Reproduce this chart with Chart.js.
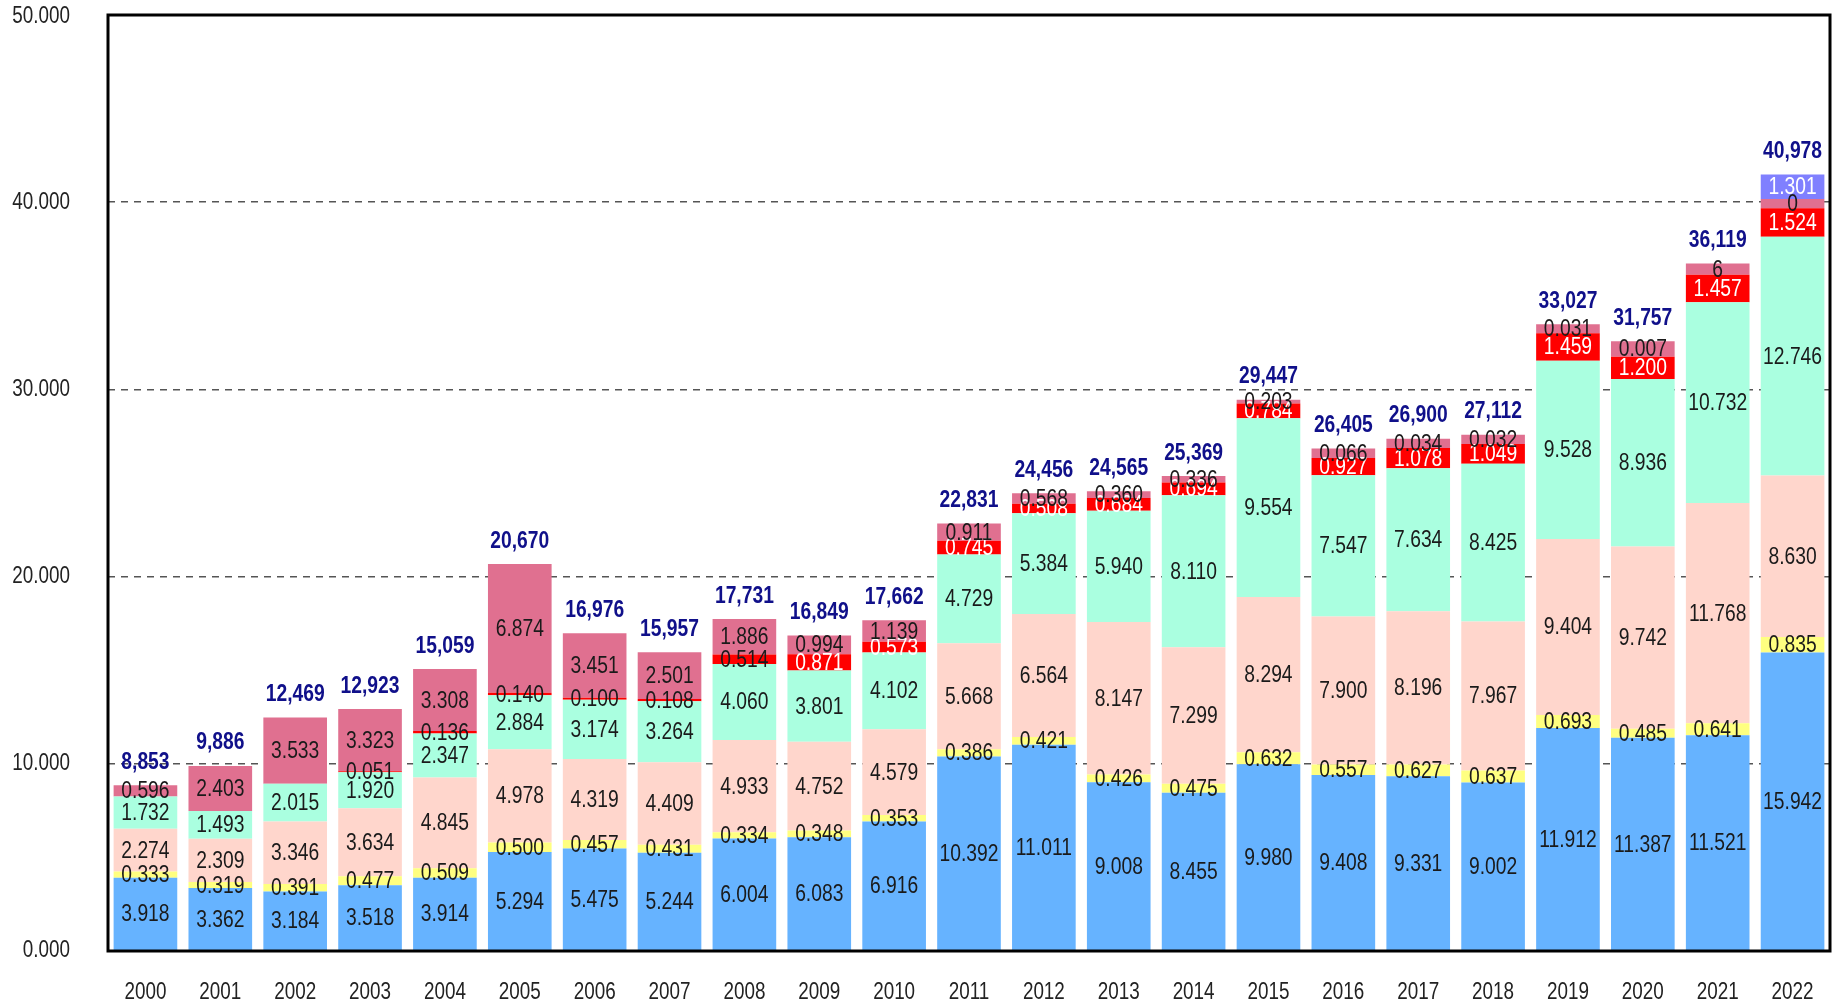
<!DOCTYPE html>
<html>
<head>
<meta charset="utf-8">
<script src="https://cdn.jsdelivr.net/npm/chart.js@4.4.1/dist/chart.umd.min.js"></script>
<style>
  html, body { margin: 0; padding: 0; background: #fff; }
  canvas { display: block; }
</style>
</head>
<body>
<canvas id="myChart" width="1845" height="1005"></canvas>
<script>
const anios = ['2000','2001','2002','2003','2004','2005','2006','2007','2008','2009','2010','2011',
               '2012','2013','2014','2015','2016','2017','2018','2019','2020','2021','2022'];
const azul     = [3.918,3.362,3.184,3.518,3.914,5.294,5.475,5.244,6.004,6.083,6.916,10.392,
                  11.011,9.008,8.455,9.980,9.408,9.331,9.002,11.912,11.387,11.521,15.942];
const amarillo = [0.333,0.319,0.391,0.477,0.509,0.500,0.457,0.431,0.334,0.348,0.353,0.386,
                  0.421,0.426,0.475,0.632,0.557,0.627,0.637,0.693,0.485,0.641,0.835];
const salmon   = [2.274,2.309,3.346,3.634,4.845,4.978,4.319,4.409,4.933,4.752,4.579,5.668,
                  6.564,8.147,7.299,8.294,7.900,8.196,7.967,9.404,9.742,11.768,8.630];
const verde    = [1.732,1.493,2.015,1.920,2.347,2.884,3.174,3.264,4.060,3.801,4.102,4.729,
                  5.384,5.940,8.110,9.554,7.547,7.634,8.425,9.528,8.936,10.732,12.746];
const rojo     = [0,0,0,0.051,0.136,0.140,0.100,0.108,0.514,0.871,0.573,0.745,
                  0.508,0.684,0.694,0.784,0.927,1.078,1.049,1.459,1.200,1.457,1.524];
// altura dibujada de la banda rosa (en los ultimos años es mayor que su rotulo)
const rosa     = [0.596,2.403,3.533,3.323,3.308,6.874,3.451,2.501,1.886,0.994,1.139,0.911,
                  0.568,0.360,0.336,0.203,0.50,0.50,0.50,0.48,0.82,0.60,0.50];
const rosaTexto = ['0.596','2.403','3.533','3.323','3.308','6.874','3.451','2.501','1.886','0.994','1.139','0.911',
                  '0.568','0.360','0.336','0.203','0.066','0.034','0.032','0.031','0.007','6','0'];
const violeta  = [null,null,null,null,null,null,null,null,null,null,null,null,
                  null,null,null,null,null,null,null,null,null,null,1.301];
const totales  = ['8,853','9,886','12,469','12,923','15,059','20,670','16,976','15,957','17,731','16,849','17,662','22,831',
                  '24,456','24,565','25,369','29,447','26,405','26,900','27,112','33,027','31,757','36,119','40,978'];
const ticksY = [0, 10, 20, 30, 40, 50];

const fuente = "'Liberation Sans', Arial, sans-serif";
const estrecho = 0.82; // no hay fuente narrow instalada, se comprime a mano

function escribir(ctx, s, x, y, align) {
  ctx.save();
  ctx.translate(x, y);
  ctx.scale(estrecho, 1);
  ctx.textAlign = align || 'center';
  ctx.fillText(s, 0, 0);
  ctx.restore();
}

// rotulos dentro de cada tramo, totales arriba, ejes y marco negro
const rotulos = {
  id: 'rotulos',
  afterDatasetsDraw(chart) {
    const ctx = chart.ctx;
    ctx.save();
    ctx.textBaseline = 'middle';
    ctx.font = '23.5px ' + fuente;
    const topes = [];
    chart.data.datasets.forEach((ds, i) => {
      const meta = chart.getDatasetMeta(i);
      meta.data.forEach((bar, j) => {
        const v = ds.data[j];
        if (!v) return;
        topes[j] = topes[j] === undefined ? bar.y : Math.min(topes[j], bar.y);
        const texto = ds.textos ? ds.textos[j] : v.toFixed(3);
        ctx.fillStyle = ds.colorTexto(j);
        escribir(ctx, texto, bar.x, (bar.y + bar.base) / 2 + 1);
      });
    });
    ctx.font = 'bold 23.5px ' + fuente;
    ctx.fillStyle = '#10108a';
    chart.getDatasetMeta(0).data.forEach((bar, j) => {
      escribir(ctx, totales[j], bar.x, topes[j] - 23);
    });
    ctx.restore();
  },
  afterDraw(chart) {
    const a = chart.chartArea;
    const ctx = chart.ctx;
    ctx.save();
    ctx.strokeStyle = '#000';
    ctx.lineWidth = 3;
    ctx.strokeRect(a.left, a.top, a.right - a.left, a.bottom - a.top);

    ctx.textBaseline = 'middle';
    ctx.font = '23px ' + fuente;
    ctx.fillStyle = '#222';
    const y = chart.scales.y;
    ticksY.forEach(v => {
      escribir(ctx, v.toFixed(3), 70, Math.max(y.getPixelForValue(v), 17), 'right');
    });
    const x = chart.scales.x;
    anios.forEach((a, j) => {
      escribir(ctx, a, x.getPixelForValue(j), 993);
    });
    ctx.restore();
  }
};

const negro = () => '#1a1a1a';
const blanco = () => '#ffffff';

const ctx = document.getElementById('myChart');
const myChart = new Chart(ctx, {
  type: 'bar',
  data: {
    labels: anios,
    datasets: [
      { data: azul, backgroundColor: '#66b3ff', colorTexto: negro },
      { data: amarillo, backgroundColor: '#ffff80', colorTexto: negro },
      { data: salmon, backgroundColor: '#ffd6cc', colorTexto: negro },
      { data: verde, backgroundColor: '#aaffe0', colorTexto: negro },
      { data: rojo, backgroundColor: '#ff0000', colorTexto: (j) => j >= 9 ? '#ffffff' : '#1a1a1a' },
      { data: rosa, backgroundColor: '#e07090', colorTexto: negro, textos: rosaTexto },
      { data: violeta, backgroundColor: '#8080ff', colorTexto: blanco }
    ]
  },
  options: {
    responsive: false,
    animation: false,
    devicePixelRatio: 1,
    layout: { padding: { top: 15, right: 15, left: 0, bottom: 0 } },
    plugins: { legend: { display: false }, tooltip: { enabled: false } },
    datasets: { bar: { barPercentage: 0.85, categoryPercentage: 1, borderWidth: 0 } },
    scales: {
      x: {
        stacked: true,
        grid: { display: false, drawTicks: false },
        border: { display: false },
        ticks: { display: false },
        afterFit: (s) => { s.height = 54; s.paddingLeft = 0; s.paddingRight = 0; }
      },
      y: {
        stacked: true,
        min: 0,
        max: 50,
        afterBuildTicks: (s) => { s.ticks = ticksY.map(v => ({ value: v })); },
        grid: {
          drawTicks: false,
          color: (c) => (c.tick.value > 0 && c.tick.value < 50) ? '#555' : 'rgba(0,0,0,0)',
          lineWidth: 1.5
        },
        border: { display: false, dash: [7, 6] },
        ticks: { display: false },
        afterFit: (s) => { s.width = 108; s.paddingTop = 0; s.paddingBottom = 0; }
      }
    }
  },
  plugins: [rotulos]
});
</script>
</body>
</html>
